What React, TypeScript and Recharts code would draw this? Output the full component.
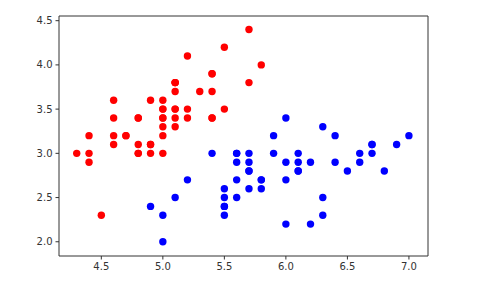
import { ScatterChart, Scatter, XAxis, YAxis, ReferenceArea } from 'recharts'

// sepal length / sepal width, first 100 iris samples
const setosaLength = [
  5.1, 4.9, 4.7, 4.6, 5.0, 5.4, 4.6, 5.0, 4.4, 4.9, 5.4, 4.8, 4.8, 4.3, 5.8, 5.7, 5.4, 5.1, 5.7, 5.1,
  5.4, 5.1, 4.6, 5.1, 4.8, 5.0, 5.0, 5.2, 5.2, 4.7, 4.8, 5.4, 5.2, 5.5, 4.9, 5.0, 5.5, 4.9, 4.4, 5.1,
  5.0, 4.5, 4.4, 5.0, 5.1, 4.8, 5.1, 4.6, 5.3, 5.0,
]
const setosaWidth = [
  3.5, 3.0, 3.2, 3.1, 3.6, 3.9, 3.4, 3.4, 2.9, 3.1, 3.7, 3.4, 3.0, 3.0, 4.0, 4.4, 3.9, 3.5, 3.8, 3.8,
  3.4, 3.7, 3.6, 3.3, 3.4, 3.0, 3.4, 3.5, 3.4, 3.2, 3.1, 3.4, 4.1, 4.2, 3.1, 3.2, 3.5, 3.6, 3.0, 3.4,
  3.5, 2.3, 3.2, 3.5, 3.8, 3.0, 3.8, 3.2, 3.7, 3.3,
]
const versicolorLength = [
  7.0, 6.4, 6.9, 5.5, 6.5, 5.7, 6.3, 4.9, 6.6, 5.2, 5.0, 5.9, 6.0, 6.1, 5.6, 6.7, 5.6, 5.8, 6.2, 5.6,
  5.9, 6.1, 6.3, 6.1, 6.4, 6.6, 6.8, 6.7, 6.0, 5.7, 5.5, 5.5, 5.8, 6.0, 5.4, 6.0, 6.7, 6.3, 5.6, 5.5,
  5.5, 6.1, 5.8, 5.0, 5.6, 5.7, 5.7, 6.2, 5.1, 5.7,
]
const versicolorWidth = [
  3.2, 3.2, 3.1, 2.3, 2.8, 2.8, 3.3, 2.4, 2.9, 2.7, 2.0, 3.0, 2.2, 2.9, 2.9, 3.1, 3.0, 2.7, 2.2, 2.5,
  3.2, 2.8, 2.5, 2.8, 2.9, 3.0, 2.8, 3.0, 2.9, 2.6, 2.4, 2.4, 2.7, 2.7, 3.0, 3.4, 3.1, 2.3, 3.0, 2.5,
  2.6, 3.0, 2.6, 2.3, 2.7, 3.0, 2.9, 2.9, 2.5, 2.8,
]

const xTicks = [4.5, 5.0, 5.5, 6.0, 6.5, 7.0]
const yTicks = [2.0, 2.5, 3.0, 3.5, 4.0, 4.5]

const X_DOMAIN = [4.156, 7.155]
const Y_DOMAIN = [1.839, 4.553]

const setosa = setosaLength.map((x, i) => ({ x, y: setosaWidth[i] }))
const versicolor = versicolorLength.map((x, i) => ({ x, y: versicolorWidth[i] }))

const dot = (color: string) => (props: any) =>
  <circle cx={props.cx} cy={props.cy} r={3.7} fill={color} />

const tickStyle = { fontFamily: 'DejaVu Sans', fontSize: 10, fill: '#333' }

export default function App() {
  return (
    <div style={{ position: 'absolute', left: 0, top: 0, background: '#fff' }}>
      <ScatterChart width={486} height={289} margin={{ top: 16, right: 58, bottom: 0, left: 0 }}>
        <XAxis
          type="number"
          dataKey="x"
          domain={X_DOMAIN}
          ticks={xTicks}
          allowDataOverflow
          tickFormatter={(v: number) => v.toFixed(1)}
          height={33}
          tickSize={3.5}
          tickMargin={3}
          axisLine={false}
          tickLine={{ stroke: '#333' }}
          tick={tickStyle}
        />
        <YAxis
          type="number"
          dataKey="y"
          domain={Y_DOMAIN}
          ticks={yTicks}
          allowDataOverflow
          tickFormatter={(v: number) => v.toFixed(1)}
          width={59}
          tickSize={3.5}
          tickMargin={3}
          axisLine={false}
          tickLine={{ stroke: '#333' }}
          tick={tickStyle}
        />
        <Scatter data={setosa} shape={dot('#ff0000')} isAnimationActive={false} />
        <Scatter data={versicolor} shape={dot('#0000ff')} isAnimationActive={false} />
        <ReferenceArea
          x1={X_DOMAIN[0]}
          x2={X_DOMAIN[1]}
          y1={Y_DOMAIN[0]}
          y2={Y_DOMAIN[1]}
          fill="none"
          stroke="#333"
          strokeWidth={1}
          ifOverflow="visible"
        />
      </ScatterChart>
    </div>
  )
}
